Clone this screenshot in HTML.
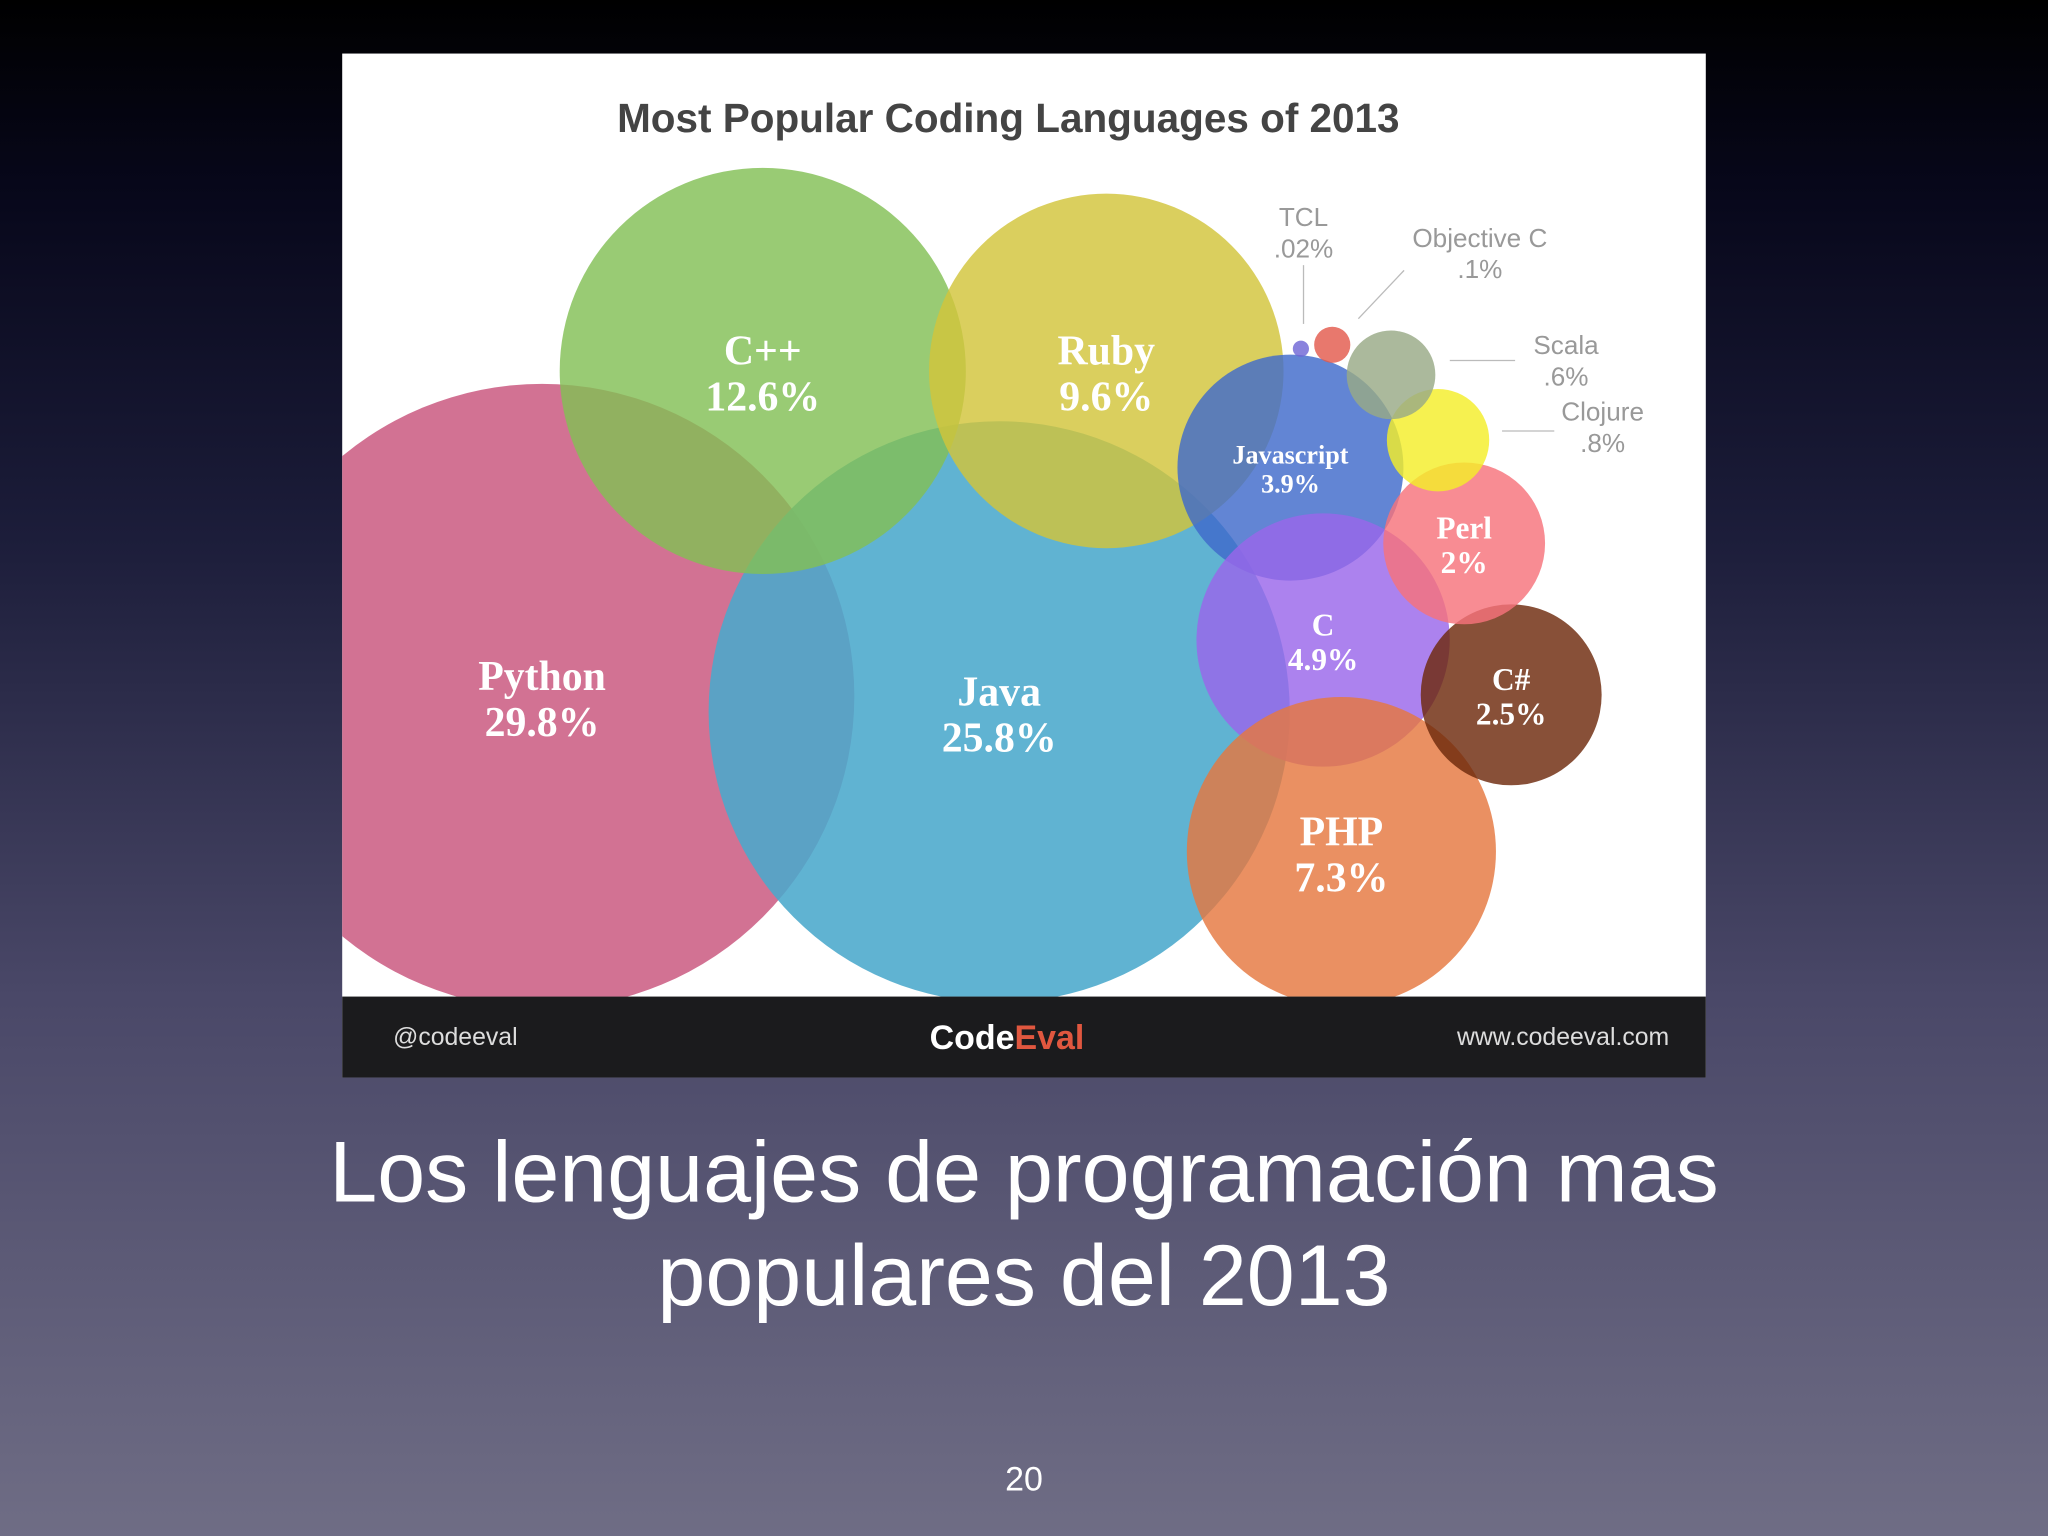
<!DOCTYPE html>
<html><head><meta charset="utf-8"><style>
html,body{margin:0;padding:0;width:2048px;height:1536px;overflow:hidden;}
body{background:linear-gradient(#000 0%,#07071a 12%,#1c1d3a 35%,#4a4868 65%,#6f6d85 100%);}
svg{display:block;}
</style></head><body>
<svg width="2048" height="1536" viewBox="0 0 1568 1176" xmlns="http://www.w3.org/2000/svg">
<defs><clipPath id="clip"><rect x="262" y="41" width="1044" height="722"/></clipPath></defs>
<rect x="262" y="41" width="1044" height="784" fill="#fff"/>
<text x="772" y="101" text-anchor="middle" font-family="Liberation Sans, sans-serif" font-weight="bold" font-size="31" fill="#444">Most Popular Coding Languages of 2013</text>
<g id="bubbles" clip-path="url(#clip)"></g>
<g id="labels"></g>
<g font-family="Liberation Sans, sans-serif" font-size="20" fill="#999" text-anchor="middle">
<text x="998" y="173">TCL</text><text x="998" y="197">.02%</text>
<line x1="998" y1="203" x2="998" y2="248" stroke="#bbb"/>
<text x="1133" y="189">Objective C</text><text x="1133" y="213">.1%</text>
<line x1="1075" y1="207" x2="1040" y2="244" stroke="#bbb"/>
<text x="1199" y="271">Scala</text><text x="1199" y="295">.6%</text>
<line x1="1110" y1="276" x2="1160" y2="276" stroke="#bbb"/>
<text x="1227" y="322">Clojure</text><text x="1227" y="346">.8%</text>
<line x1="1150" y1="330" x2="1190" y2="330" stroke="#bbb"/>
</g>
<rect x="262" y="763" width="1044" height="62" fill="#1b1b1d"/>
<text x="301" y="800" font-family="Liberation Sans, sans-serif" font-size="19" fill="#ddd">@codeeval</text>
<text x="771" y="803" text-anchor="middle" font-family="Liberation Sans, sans-serif" font-weight="bold" font-size="26" fill="#fff">Code<tspan fill="#e0573f">Eval</tspan></text>
<text x="1278" y="800" text-anchor="end" font-family="Liberation Sans, sans-serif" font-size="19" fill="#ddd">www.codeeval.com</text>
<text x="784" y="920" text-anchor="middle" font-family="Liberation Sans, sans-serif" font-size="66" fill="#fff">Los lenguajes de programación mas</text>
<text x="784" y="999" text-anchor="middle" font-family="Liberation Sans, sans-serif" font-size="66" fill="#fff">populares del 2013</text>
<text x="784" y="1141" text-anchor="middle" font-family="Liberation Sans, sans-serif" font-size="26" fill="#fff">20</text>
</svg>
<script>
const languages=["Python","Java","C++","Ruby","Javascript","C","PHP","C#","Perl","Clojure","Scala","Objective C","TCL"];
const shares=[29.8,25.8,12.6,9.6,3.9,4.9,7.3,2.5,2,0.8,0.6,0.1,0.02];
const shareLabels=["29.8%","25.8%","12.6%","9.6%","3.9%","4.9%","7.3%","2.5%","2%","",""," ",""];
const colors=["#cc5f84","#4aa8cc","#82c055","#d2c43b","#3f6acb","#9a66ea","#e5773f","#6e2a0c","#f6737b","#f4ee2a","#98a986","#e35a4d","#6f66d6"];
const cx=[415,765,584,847,988,1013,1027,1157,1121,1101,1065,1020,996];
const cy=[533,545,284,284,358,490,652,532,416,337,287,264,267];
const rScale=v=>43.8*Math.sqrt(v);
const NS="http://www.w3.org/2000/svg";
const g=document.getElementById('bubbles'),lg=document.getElementById('labels');
languages.forEach((name,i)=>{
  const c=document.createElementNS(NS,'circle');
  
  
  c.setAttribute('cx',cx[i]);c.setAttribute('cy',cy[i]);c.setAttribute('r',rScale(shares[i]));
  c.setAttribute('fill',colors[i]);c.setAttribute('fill-opacity',i<2?0.88:0.82);
  g.appendChild(c);
  if(shares[i]>=2){
    const big=shares[i]>=7;const fs=big?32:(name==="Javascript"?20:24);
    const t=document.createElementNS(NS,'text');
    
    
    t.setAttribute('x',cx[i]);t.setAttribute('text-anchor','middle');
    t.setAttribute('font-family','Liberation Serif, serif');t.setAttribute('font-weight','bold');
    t.setAttribute('font-size',fs);t.setAttribute('fill','#fff');
    const a=document.createElementNS(NS,'tspan');a.setAttribute('x',cx[i]);a.setAttribute('y',cy[i]-fs*0.15);a.textContent=name;
    const b=document.createElementNS(NS,'tspan');b.setAttribute('x',cx[i]);b.setAttribute('y',cy[i]+fs*0.95);b.textContent=shareLabels[i];
    t.appendChild(a);t.appendChild(b);lg.appendChild(t);
  }
});
</script>
</body></html>
